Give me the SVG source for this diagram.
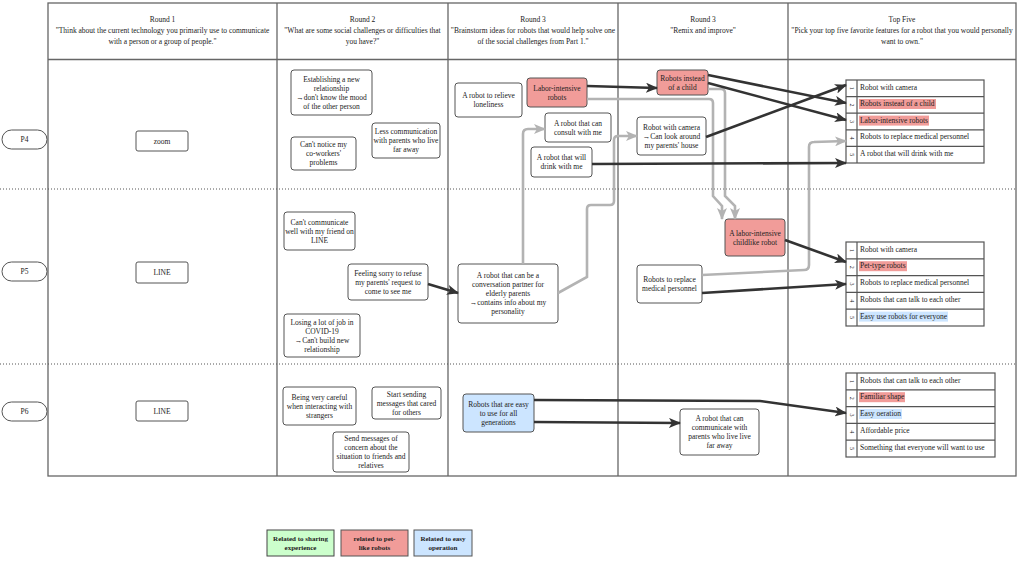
<svg xmlns="http://www.w3.org/2000/svg" width="1021" height="561" viewBox="0 0 1021 561">
<style>
text{font-family:"Liberation Serif","Times New Roman",serif;font-size:7.5px;fill:#222;text-anchor:middle}
.box{fill:#fff;stroke:#555;stroke-width:1}
.pink{fill:#f19c99;stroke:#555;stroke-width:1}
.blue{fill:#cce5ff;stroke:#555;stroke-width:1}
.green{fill:#ccffcc;stroke:#444;stroke-width:1}
.grid{stroke:#666;stroke-width:1.3;fill:none}
.dot{stroke:#555;stroke-width:1;stroke-dasharray:1 2;fill:none}
.blk{stroke:#333;stroke-width:2.6;fill:none}
.gry{stroke:#b3b3b3;stroke-width:2.6;fill:none}
.tbl{fill:#fff;stroke:#555;stroke-width:1.2}
.tl{stroke:#555;stroke-width:1.2}
.li{text-anchor:start}
.num{font-size:6px}
.leg{font-weight:bold;font-size:7px}
.hp{fill:#f19c99}
.hb{fill:#cce5ff}
</style>
<defs>
<marker id="ab" markerUnits="userSpaceOnUse" markerWidth="12" markerHeight="10" refX="11" refY="5" orient="auto"><path d="M0,0 L12,5 L0,10 L3,5 z" fill="#333"/></marker>
<marker id="ag" markerUnits="userSpaceOnUse" markerWidth="12" markerHeight="10" refX="11" refY="5" orient="auto"><path d="M0,0 L12,5 L0,10 L3,5 z" fill="#b3b3b3"/></marker>
</defs>
<rect width="1021" height="561" fill="#fff"/>
<g id="table">
<rect x="48" y="3" width="968" height="473" class="grid"/>
<line x1="48" y1="59.5" x2="1016" y2="59.5" class="grid"/>
<line x1="277" y1="3" x2="277" y2="476" class="grid"/>
<line x1="448" y1="3" x2="448" y2="476" class="grid"/>
<line x1="618" y1="3" x2="618" y2="476" class="grid"/>
<line x1="788" y1="3" x2="788" y2="476" class="grid"/>
<line x1="0" y1="189" x2="1016" y2="189" class="dot"/>
<line x1="0" y1="364" x2="1016" y2="364" class="dot"/>
<text x="162.5" y="22">Round 1</text>
<text x="162.5" y="33">"Think about the current technology you primarily use to communicate</text>
<text x="162.5" y="44">with a person or a group of people."</text>
<text x="362.5" y="22">Round 2</text>
<text x="362.5" y="33">"What are some social challenges or difficulties that</text>
<text x="362.5" y="44">you have?"</text>
<text x="533" y="22">Round 3</text>
<text x="533" y="33">"Brainstorm ideas for robots that would help solve one</text>
<text x="533" y="44">of the social challenges from Part 1."</text>
<text x="703" y="22">Round 3</text>
<text x="703" y="33">"Remix and improve"</text>
<text x="902" y="22">Top Five</text>
<text x="902" y="33">"Pick your top five favorite features for a robot that you would personally</text>
<text x="902" y="44">want to own."</text>
</g>
<g id="p4"><rect x="2" y="130" width="45" height="19" rx="9.5" class="box"/><text x="24.5" y="142.3">P4</text></g>
<g id="p5"><rect x="2" y="262" width="45" height="19" rx="9.5" class="box"/><text x="24.5" y="274.3">P5</text></g>
<g id="p6"><rect x="2" y="402" width="45" height="19" rx="9.5" class="box"/><text x="24.5" y="414.3">P6</text></g>
<g id="r1-p4"><rect x="136" y="131" width="52" height="20" rx="2" class="box"/><text x="162" y="143.8">zoom</text></g>
<g id="r1-p5"><rect x="136" y="262" width="52" height="21" rx="2" class="box"/><text x="162" y="275.3">LINE</text></g>
<g id="r1-p6"><rect x="136" y="401" width="52" height="20" rx="2" class="box"/><text x="162" y="413.8">LINE</text></g>
<g id="n1"><rect x="291" y="70" width="81" height="45" rx="3" class="box"/><text x="331.5" y="81.8">Establishing a new<tspan x="331.5" dy="9">relationship</tspan><tspan x="331.5" dy="9">→don't know the mood</tspan><tspan x="331.5" dy="9">of the other person</tspan></text></g>
<g id="n2"><rect x="291" y="137" width="65" height="33" rx="3" class="box"/><text x="323.5" y="147.3">Can't notice my<tspan x="323.5" dy="9">co-workers'</tspan><tspan x="323.5" dy="9">problems</tspan></text></g>
<g id="n3"><rect x="372" y="123" width="68" height="35" rx="3" class="box"/><text x="406" y="134.3">Less communication<tspan x="406" dy="9">with parents who live</tspan><tspan x="406" dy="9">far away</tspan></text></g>
<g id="n4"><rect x="455" y="83" width="67" height="34" rx="3" class="box"/><text x="488.5" y="98.3">A robot to relieve<tspan x="488.5" dy="9">loneliness</tspan></text></g>
<g id="n5"><rect x="527" y="78" width="60" height="29" rx="3" class="pink"/><text x="557" y="90.8">Labor-intensive<tspan x="557" dy="9">robots</tspan></text></g>
<g id="n6"><rect x="545" y="113" width="66" height="29" rx="3" class="box"/><text x="578" y="125.8">A robot that can<tspan x="578" dy="9">consult with me</tspan></text></g>
<g id="n7"><rect x="531" y="147" width="61" height="30" rx="3" class="box"/><text x="561.5" y="160.3">A robot that will<tspan x="561.5" dy="9">drink with me</tspan></text></g>
<g id="n8"><rect x="657" y="70" width="51" height="25" rx="3" class="pink"/><text x="682.5" y="80.8">Robots instead<tspan x="682.5" dy="9">of a child</tspan></text></g>
<g id="n9"><rect x="637" y="117" width="69" height="38" rx="3" class="box"/><text x="671.5" y="129.8">Robot with camera<tspan x="671.5" dy="9">→Can look around</tspan><tspan x="671.5" dy="9">my parents' house</tspan></text></g>
<g id="n10"><rect x="284" y="212" width="71" height="38" rx="3" class="box"/><text x="319.5" y="224.8">Can't communicate<tspan x="319.5" dy="9">well with my friend on</tspan><tspan x="319.5" dy="9">LINE</tspan></text></g>
<g id="n11"><rect x="348" y="264" width="80" height="36" rx="3" class="box"/><text x="388" y="275.8">Feeling sorry to refuse<tspan x="388" dy="9">my parents' request to</tspan><tspan x="388" dy="9">come to see me</tspan></text></g>
<g id="n12"><rect x="284" y="314" width="76" height="43" rx="3" class="box"/><text x="322" y="324.8">Losing a lot of job in<tspan x="322" dy="9">COVID-19</tspan><tspan x="322" dy="9">→Can't build new</tspan><tspan x="322" dy="9">relationship</tspan></text></g>
<g id="n13"><rect x="458" y="264" width="100" height="59" rx="3" class="box"/><text x="508" y="278.3">A robot that can be a<tspan x="508" dy="9">conversation partner for</tspan><tspan x="508" dy="9">elderly parents</tspan><tspan x="508" dy="9">→contains info about my</tspan><tspan x="508" dy="9">personality</tspan></text></g>
<g id="n14"><rect x="725" y="219" width="60" height="37" rx="3" class="pink"/><text x="755" y="235.8">A labor-intensive<tspan x="755" dy="9">childlike robot</tspan></text></g>
<g id="n15"><rect x="637" y="265" width="65" height="38" rx="3" class="box"/><text x="669.5" y="282.3">Robots to replace<tspan x="669.5" dy="9">medical personnel</tspan></text></g>
<g id="n16"><rect x="283" y="387" width="73" height="38" rx="3" class="box"/><text x="319.5" y="399.8">Being very careful<tspan x="319.5" dy="9">when interacting with</tspan><tspan x="319.5" dy="9">strangers</tspan></text></g>
<g id="n17"><rect x="372" y="387" width="69" height="32" rx="3" class="box"/><text x="406.5" y="396.8">Start sending<tspan x="406.5" dy="9">messages that cared</tspan><tspan x="406.5" dy="9">for others</tspan></text></g>
<g id="n18"><rect x="333" y="432" width="76" height="40" rx="3" class="box"/><text x="371" y="441.3">Send messages of<tspan x="371" dy="9">concern about the</tspan><tspan x="371" dy="9">situation to friends and</tspan><tspan x="371" dy="9">relatives</tspan></text></g>
<g id="n19"><rect x="463" y="394" width="71" height="38" rx="3" class="blue"/><text x="498.5" y="406.8">Robots that are easy<tspan x="498.5" dy="9">to use for all</tspan><tspan x="498.5" dy="9">generations</tspan></text></g>
<g id="n20"><rect x="680" y="409" width="79" height="46" rx="3" class="box"/><text x="719.5" y="421.3">A robot that can<tspan x="719.5" dy="9">communicate with</tspan><tspan x="719.5" dy="9">parents who live live</tspan><tspan x="719.5" dy="9">far away</tspan></text></g>
<g id="top5-p4">
<rect x="846" y="80" width="138" height="83" class="tbl"/>
<line x1="846" y1="96.6" x2="984" y2="96.6" class="tl"/><line x1="846" y1="113.2" x2="984" y2="113.2" class="tl"/><line x1="846" y1="129.8" x2="984" y2="129.8" class="tl"/><line x1="846" y1="146.4" x2="984" y2="146.4" class="tl"/>
<line x1="857" y1="80" x2="857" y2="163" class="tl"/>
<rect x="859" y="99" width="77" height="10" class="hp"/><rect x="859" y="115.6" width="70" height="10" class="hp"/>
<text class="num" transform="translate(851.5,88.3) rotate(90)" dominant-baseline="central">1</text>
<text class="num" transform="translate(851.5,104.9) rotate(90)" dominant-baseline="central">2</text>
<text class="num" transform="translate(851.5,121.5) rotate(90)" dominant-baseline="central">3</text>
<text class="num" transform="translate(851.5,138.1) rotate(90)" dominant-baseline="central">4</text>
<text class="num" transform="translate(851.5,154.7) rotate(90)" dominant-baseline="central">5</text>
<text class="li" x="860" y="89.5">Robot with camera</text>
<text class="li" x="860" y="106.1">Robots instead of a child</text>
<text class="li" x="860" y="122.7">Labor-intensive robots</text>
<text class="li" x="860" y="139.3">Robots to replace medical personnel</text>
<text class="li" x="860" y="155.9">A robot that will drink with me</text>
</g>
<g id="top5-p5">
<rect x="846" y="242" width="138" height="84" class="tbl"/>
<line x1="846" y1="258.8" x2="984" y2="258.8" class="tl"/><line x1="846" y1="275.6" x2="984" y2="275.6" class="tl"/><line x1="846" y1="292.4" x2="984" y2="292.4" class="tl"/><line x1="846" y1="309.2" x2="984" y2="309.2" class="tl"/>
<line x1="857" y1="242" x2="857" y2="326" class="tl"/>
<rect x="859" y="261.2" width="48" height="10" class="hp"/><rect x="859" y="311.6" width="89" height="10" class="hb"/>
<text class="num" transform="translate(851.5,250.4) rotate(90)" dominant-baseline="central">1</text>
<text class="num" transform="translate(851.5,267.2) rotate(90)" dominant-baseline="central">2</text>
<text class="num" transform="translate(851.5,284) rotate(90)" dominant-baseline="central">3</text>
<text class="num" transform="translate(851.5,300.8) rotate(90)" dominant-baseline="central">4</text>
<text class="num" transform="translate(851.5,317.6) rotate(90)" dominant-baseline="central">5</text>
<text class="li" x="860" y="251.5">Robot with camera</text>
<text class="li" x="860" y="268.3">Pet-type robots</text>
<text class="li" x="860" y="285.1">Robots to replace medical personnel</text>
<text class="li" x="860" y="301.9">Robots that can talk to each other</text>
<text class="li" x="860" y="318.7">Easy use robots for everyone</text>
</g>
<g id="top5-p6">
<rect x="846" y="373" width="149" height="84" class="tbl"/>
<line x1="846" y1="389.8" x2="995" y2="389.8" class="tl"/><line x1="846" y1="406.6" x2="995" y2="406.6" class="tl"/><line x1="846" y1="423.4" x2="995" y2="423.4" class="tl"/><line x1="846" y1="440.2" x2="995" y2="440.2" class="tl"/>
<line x1="857" y1="373" x2="857" y2="457" class="tl"/>
<rect x="859" y="392.2" width="46" height="10" class="hp"/><rect x="859" y="409" width="43" height="10" class="hb"/>
<text class="num" transform="translate(851.5,381.4) rotate(90)" dominant-baseline="central">1</text>
<text class="num" transform="translate(851.5,398.2) rotate(90)" dominant-baseline="central">2</text>
<text class="num" transform="translate(851.5,415) rotate(90)" dominant-baseline="central">3</text>
<text class="num" transform="translate(851.5,431.8) rotate(90)" dominant-baseline="central">4</text>
<text class="num" transform="translate(851.5,448.6) rotate(90)" dominant-baseline="central">5</text>
<text class="li" x="860" y="382.5">Robots that can talk to each other</text>
<text class="li" x="860" y="399.3">Familiar shape</text>
<text class="li" x="860" y="416.1">Easy oeration</text>
<text class="li" x="860" y="432.9">Affordable price</text>
<text class="li" x="860" y="449.7">Something that everyone will want to use</text>
</g>
<g id="connectors">
<path class="gry" marker-end="url(#ag)" d="M523,264 L523,134 Q523,129 528,129 L545,129"/>
<path class="gry" marker-end="url(#ag)" d="M558,293 L587,277 L587,209 Q587,205 591,205 L610,205 Q614,205 614,201 L614,140 Q614,136 618,136 L637,136"/>
<path class="gry" marker-end="url(#ag)" d="M587,99 L709,99 Q713,99 713,103 L713,196 L722,206 L722,219"/>
<path class="gry" marker-end="url(#ag)" d="M708,89 L721,89 Q725,89 725,93 L725,196 L735,206 L735,219"/>
<path class="gry" marker-end="url(#ag)" d="M702,275 L804,270 Q809,270 809,265 L809,147 Q809,142 814,142 L846,141"/>
<path class="blk" marker-end="url(#ab)" d="M587,86 L657,88"/>
<path class="blk" marker-end="url(#ab)" d="M708,75 L846,103"/>
<path class="blk" marker-end="url(#ab)" d="M708,83 L846,120"/>
<path class="blk" marker-end="url(#ab)" d="M706,137 L846,85"/>
<path class="blk" marker-end="url(#ab)" d="M592,164 L846,163"/>
<path class="blk" marker-end="url(#ab)" d="M428,284 L458,293"/>
<path class="blk" marker-end="url(#ab)" d="M785,240 L846,262"/>
<path class="blk" marker-end="url(#ab)" d="M702,293 L846,284"/>
<path class="blk" marker-end="url(#ab)" d="M534,400 L760,401 L846,413"/>
<path class="blk" marker-end="url(#ab)" d="M534,422 L680,423"/>
</g>
<g id="legend-green"><rect x="267" y="530" width="67" height="26" class="green"/><text class="leg" x="300.5" y="541">Related to sharing<tspan x="300.5" dy="9">experience</tspan></text></g>
<g id="legend-pink"><rect x="341" y="530" width="67" height="26" class="pink"/><text class="leg" x="374.5" y="541">related to pet-<tspan x="374.5" dy="9">like robots</tspan></text></g>
<g id="legend-blue"><rect x="414" y="530" width="58" height="26" class="blue"/><text class="leg" x="443" y="541">Related to easy<tspan x="443" dy="9">operation</tspan></text></g>
</svg>
